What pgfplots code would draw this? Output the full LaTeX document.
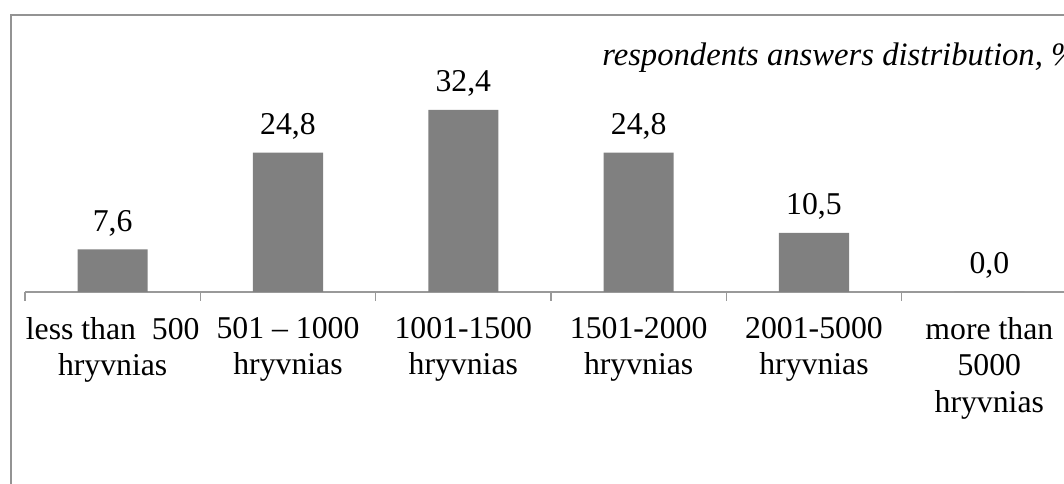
\documentclass[border=0pt]{standalone}
\usepackage{fontspec}
\setmainfont{Liberation Serif}
\usepackage{pgfplots}
\pgfplotsset{compat=1.18}
\begin{document}
\begin{tikzpicture}
\useasboundingbox (0,0) rectangle (798pt,363pt);
\clip (0,0) rectangle (798pt,363pt);
\draw[draw=gray!85, line width=1.3pt] (8.25pt,0) -- (8.25pt,351.75pt) -- (800pt,351.75pt);
\node[anchor=base west, inner sep=0pt, font=\fontsize{24.5}{28}\selectfont\itshape] at (451.5pt,313.5pt) {respondents answers distribution, \%};
\begin{axis}[
  at={(84.5pt,144pt)}, anchor=origin,
  scale only axis, width=789pt, height=168.6pt,
  xmin=-0.5, xmax=5.5, ymin=0, ymax=40,
  axis y line=none, axis x line*=bottom,
  x axis line style={draw=gray!80, line width=0.8pt, -},
  xtick={0,1,2,3,4,5},
  xticklabels={{less than\ \ 500\\hryvnias},{501 -- 1000\\hryvnias},{1001-1500\\hryvnias},{1501-2000\\hryvnias},{2001-5000\\hryvnias},{more than\\5000\\hryvnias}},
  major tick length=0pt,
  minor xtick={-0.5,0.5,1.5,2.5,3.5,4.5,5.5},
  minor tick length=6.75pt,
  tick align=outside,
  minor tick style={draw=gray!80, line width=0.8pt},
  xticklabel style={align=center, anchor=north, inner sep=0pt, yshift=-19pt, font=\fontsize{23.8}{27.2}\selectfont},
  ybar, bar width=0.4,
  bar shift=0pt,
  clip=false,
  nodes near coords={\pgfmathprintnumber[fixed, fixed zerofill, precision=1, use comma, assume math mode=true]{\pgfplotspointmeta}},
  every node near coord/.append style={anchor=base, inner sep=0pt, yshift=13.5pt, font=\fontsize{23.8}{26}\selectfont, text=black},
]
\addplot[fill=gray, draw=none] coordinates {(0,7.6) (1,24.8) (2,32.4) (3,24.8) (4,10.5) (5,0.0)};
\end{axis}
\end{tikzpicture}
\end{document}
